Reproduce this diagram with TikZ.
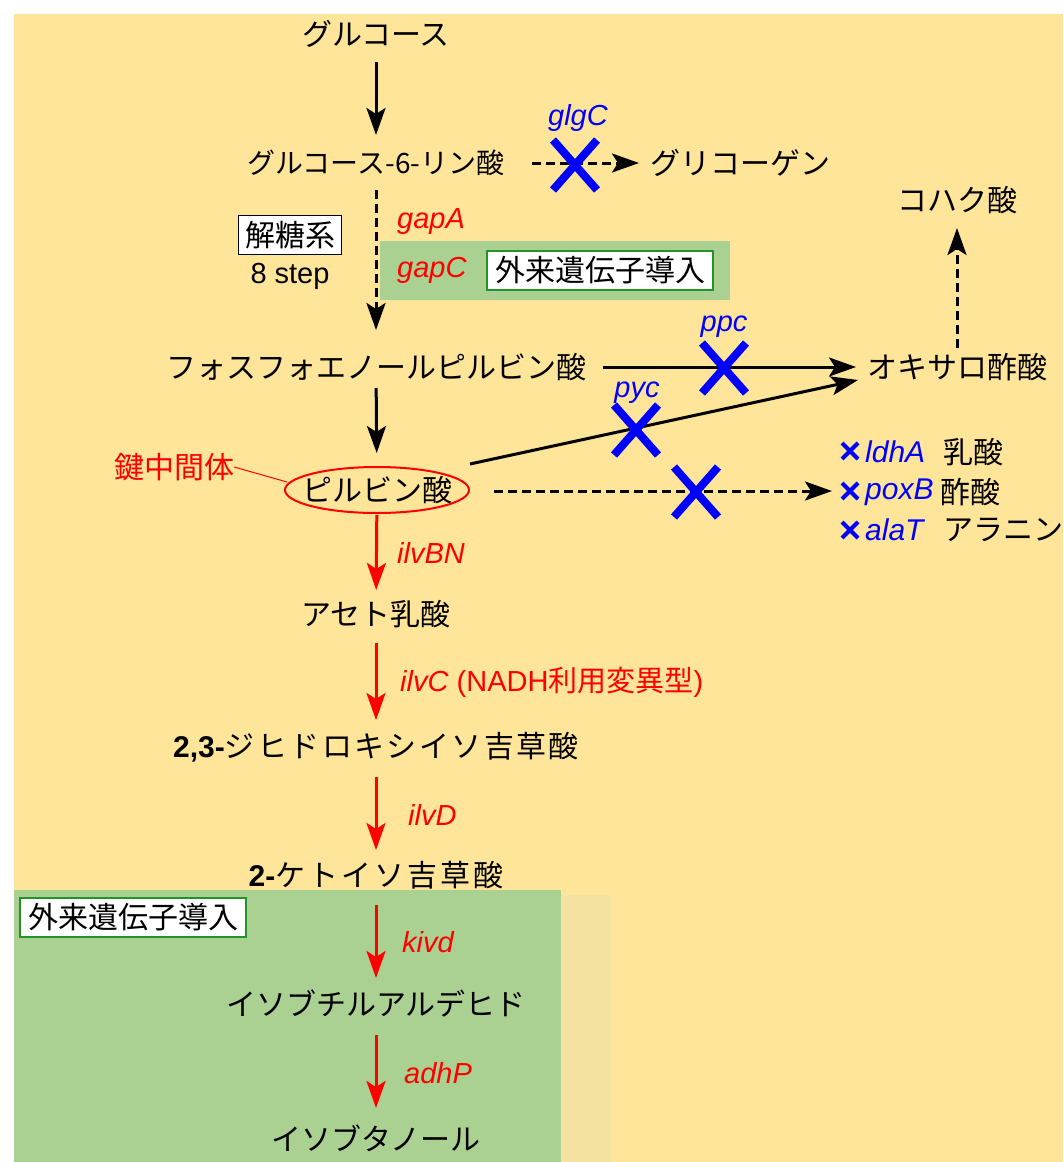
\documentclass[tikz,border=0pt]{standalone}
\usepackage{fontspec}
\setmainfont{Noto Sans CJK JP}
\newfontfamily\lat{Liberation Sans}
\newfontfamily\jpA[LetterSpace=8]{Noto Sans CJK JP}
\newfontfamily\jpB[LetterSpace=10]{Noto Sans CJK JP}
\usetikzlibrary{arrows.meta}
\definecolor{bgyellow}{HTML}{FFE599}
\definecolor{bggreen}{HTML}{ABD192}
\definecolor{bgpale}{HTML}{F4E3A0}
\definecolor{boxgreen}{HTML}{23922B}
\begin{document}
\begin{tikzpicture}[x=1pt,y=-1pt,
  txt/.style={font=\fontsize{30}{34}\selectfont, inner sep=0pt},
  lattxt/.style={font=\lat\fontsize{29}{34}\selectfont, inner sep=0pt},
  gene/.style={font=\lat\itshape\fontsize{29}{34}\selectfont, inner sep=0pt, text=red},
  bgene/.style={gene, text=blue},
  lgene/.style={bgene, font=\lat\itshape\fontsize{30}{34}\selectfont, anchor=west},
  wbox/.style={txt, fill=white, draw=black, line width=1.5pt, minimum width=103pt, minimum height=39pt},
  gbox/.style={txt, fill=white, draw=boxgreen, line width=2pt, minimum width=226pt, minimum height=39pt},
  blk/.style={line width=3pt, -{Stealth[length=27pt,width=19pt,inset=6pt]}},
  rarr/.style={blk, red},
  dsh/.style={dash pattern=on 9pt off 5pt},
  xcross/.pic={\draw[blue, line width=8pt] (-22,-25) -- (22,25) (-22,25) -- (22,-25);},
  smallx/.pic={\draw[blue, line width=4pt] (-8,-8) -- (8,8) (-8,8) -- (8,-8);}
]
\useasboundingbox (0,0) rectangle (1063,1162);
% backgrounds
\fill[bgyellow] (14,14) rectangle (1063,1162);
\fill[bggreen] (380,241) rectangle (730,300);
\fill[bgpale] (561,895) rectangle (611,1162);
\fill[bggreen] (14,890) rectangle (561,1162);

% main nodes
\node[txt] (glc) at (376,34) {グルコース};
\node[txt, font=\fontsize{28}{32}\selectfont] (g6p) at (376,163) {グルコース-6-リン酸};
\node[txt] (gly) at (740,163) {グリコーゲン};
\node[txt] (suc) at (957,200) {コハク酸};
\node[wbox] (glyco) at (290,235) {解糖系};
\node[lattxt] (step) at (290,276) {8 step};
\node[gene, anchor=west] (gapA) at (397,222) {gapA};
\node[gene, anchor=west] (gapC) at (397,270) {gapC};
\node[gbox] (ex1) at (600,270) {外来遺伝子導入};
\node[txt] (pep) at (376,367) {フォスフォエノールピルビン酸};
\node[txt] (oaa) at (957,367) {オキサロ酢酸};
\node[txt] (pyr) at (377,490) {ピルビン酸};
\draw[red, line width=2pt] (pyr.center) ellipse [x radius=92, y radius=23];
\node[txt, text=red] (key) at (174,467) {鍵中間体};
\node[txt] (ace) at (376,614) {アセト乳酸};
\node[txt] (dhiv) at (376,747) {{\lat\bfseries 2,3-}{\jpA ジヒドロキシイソ吉草酸}};
\node[txt] (kiv) at (376,875) {{\lat\bfseries 2-}{\jpB ケトイソ吉草酸}};
\node[gbox] (ex2) at (133,917) {外来遺伝子導入};
\node[txt] (ibal) at (376,1003) {イソブチルアルデヒド};
\node[txt] (ibol) at (376,1138) {イソブタノール};

% gene labels
\node[bgene] (glgC) at (578,118) {glgC};
\node[bgene] (ppc) at (724,327) {ppc};
\node[bgene] (pyc) at (637,393) {pyc};
\node[gene, anchor=west] (ilvBN) at (397,553) {ilvBN};
\node[gene, anchor=west] (ilvC) at (400,682) {ilvC\/ {\upshape (NADH{\rmfamily 利用変異型})}};
\node[gene, anchor=west] (ilvD) at (408,815) {ilvD};
\node[gene, anchor=west] (kivd) at (402,942) {kivd};
\node[gene, anchor=west] (adhP) at (404,1073) {adhP};

% byproduct list
\pic at (850,451) {smallx};
\node[lgene] (ldhA) at (865,452) {ldhA};
\node[txt, anchor=west] (lac) at (943,452) {乳酸};
\pic at (850,491) {smallx};
\node[lgene] (poxB) at (865,492) {poxB};
\node[txt, anchor=west] (acet) at (940,492) {酢酸};
\pic at (850,530) {smallx};
\node[lgene] (alaT) at (865,530) {alaT};
\node[txt, anchor=west] (ala) at (943,530) {アラニン};

% connector endpoints
\coordinate (pycS) at (470,464);
\coordinate (pycE) at (858,380);
\coordinate (bypS) at (494,491);
\coordinate (bypE) at (832,491);
\coordinate (keyE) at (287,482);

% connectors
\draw[blk, shorten <=28pt, shorten >=28pt] (glc.center) -- (g6p.center);
\draw[blk, dsh, shorten <=156pt, shorten >=101pt] (g6p.center) -- (gly.center);
\draw[blk, dsh, shorten <=27pt, shorten >=37pt] (g6p.center) -- (pep.center);
\draw[blk, shorten <=227pt, shorten >=101pt] (pep.center) -- (oaa.center);
\draw[blk, dsh, shorten <=19pt, shorten >=28pt] (oaa.center) -- (suc.center);
\draw[blk, shorten <=21pt, shorten >=37pt] (pep.center) -- (pyr.center);
\draw[blk] (pycS) -- (pycE);
\draw[blk, dsh] (bypS) -- (bypE);
\draw[red, line width=1pt] (key.east) -- (keyE);
\draw[rarr, shorten <=25pt, shorten >=24pt] (pyr.center) -- (ace.center);
\draw[rarr, shorten <=29pt, shorten >=27pt] (ace.center) -- (dhiv.center);
\draw[rarr, shorten <=30pt, shorten >=25pt] (dhiv.center) -- (kiv.center);
\draw[rarr, shorten <=30pt, shorten >=25pt] (kiv.center) -- (ibal.center);
\draw[rarr, shorten <=32pt, shorten >=30pt] (ibal.center) -- (ibol.center);

% knockout crosses
\pic at (575,165) {xcross};
\pic at (724,368) {xcross};
\pic at (636,430) {xcross};
\pic at (696,492) {xcross};
\end{tikzpicture}
\end{document}
